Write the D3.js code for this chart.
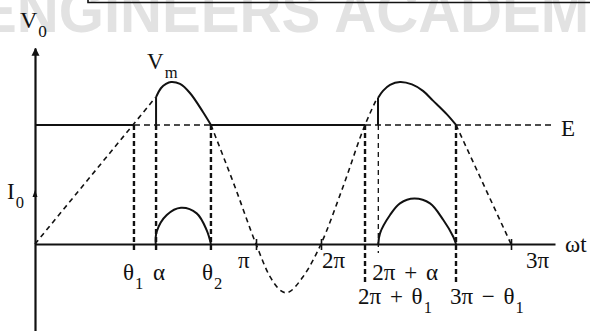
<!DOCTYPE html>
<html>
<head>
<meta charset="utf-8">
<script src="https://cdn.jsdelivr.net/npm/d3@7"></script>
<style>
    body { margin: 0; background: #fff; }
    svg { display: block; }
    text { font-family: "Liberation Serif", "Times New Roman", serif; fill: #111; }
</style>
</head>
<body>
<div id="d3container"></div>
<script>
// angles are in degrees of wt, voltages are per unit of Vm
var E = 0.735;
var I0 = 0.315;

// supply voltage, dashed where the diode is off
var supplyRise = [[0, 0], [98.1, 0.904]];
var supplyMid = [[143.3, 0.735], [162.9, 0.352], [180, 0], [218.8, -0.202], [263.1, -0.301],
    [310.2, -0.202], [360, 0], [380.8, 0.352], [401.7, 0.735], [413.1, 0.901]];
var supplyFall = [[487.9, 0.735], [540, 0]];

// output voltage while conducting
var peak1 = [[98.6, 0.907], [102.7, 0.963], [106.7, 0.988], [110.8, 1.0], [118.1, 0.988],
    [126.2, 0.932], [136.8, 0.815], [143.3, 0.735]];
var peak2 = [[414.0, 0.901], [418.7, 0.945], [425.4, 0.982], [434.8, 1.0], [446.2, 0.985],
    [456.6, 0.945], [466.1, 0.885], [479.3, 0.8], [487.9, 0.735]];

// load current pulses
var current1 = [[98.3, 0], [99.1, 0.076], [107.3, 0.179], [118.9, 0.224], [131.7, 0.189],
    [139.8, 0.086], [143.3, 0]];
var current2 = [[414.3, 0], [415.9, 0.066], [425.4, 0.179], [434.8, 0.251], [448.4, 0.281],
    [463.3, 0.251], [475.9, 0.148], [485.3, 0.045], [487.9, 0]];

// battery level E, solid / dashed pieces
var eSolid = [[0, 80.6], [143.3, 401.7]];
var eDashed = [[80.6, 143.3], [401.7, 582]];

// marked angles
var markAngles = [80.6, 98.6, 143.3, 401.7, 414.3, 487.9];
var markLabels = ['θ_1', 'α', 'θ_2', '2π + θ_1', '2π + α', '3π − θ_1'];
var markRows = [1, 1, 1, 2, 1, 2];

var tickAngles = [180, 360, 540];
var tickLabels = ['π', '2π', '3π'];

var width = 590;
var height = 331;

/*
 the original drawing is not to scale, so the
 angle axis is piecewise linear between pi marks
 */
var x = d3.scaleLinear()
    .domain([0, 180, 360, 540, 582])
    .range([35, 256, 321, 511, 555]);

var y = d3.scaleLinear()
    .domain([0, 1])
    .range([244, 82]);

var line = d3.line()
    .x(function (d) { return x(d[0]); })
    .y(function (d) { return y(d[1]); })
    .curve(d3.curveMonotoneX);

var smooth = d3.line()
    .x(function (d) { return x(d[0]); })
    .y(function (d) { return y(d[1]); })
    .curve(d3.curveCatmullRom);

var straight = d3.line()
    .x(function (d) { return x(d[0]); })
    .y(function (d) { return y(d[1]); });

var svg = d3.select('#d3container').append('svg')
    .attr('width', width)
    .attr('height', height);

svg.append('defs').append('marker')
    .attr('id', 'arrow')
    .attr('viewBox', '0 0 10 10')
    .attr('refX', 9)
    .attr('refY', 5)
    .attr('markerUnits', 'userSpaceOnUse')
    .attr('markerWidth', 8)
    .attr('markerHeight', 9)
    .attr('orient', 'auto')
    .append('path')
    .attr('d', 'M0,0 L10,5 L0,10 Z')
    .attr('fill', '#111');

// watermark and frame at the top
svg.append('text')
    .attr('x', -22)
    .attr('y', 32)
    .attr('textLength', 650)
    .attr('lengthAdjust', 'spacingAndGlyphs')
    .style('font-family', '"Liberation Sans", Arial, sans-serif')
    .style('font-weight', 'bold')
    .style('font-size', '62px')
    .style('fill', '#e2e2e2')
    .text('ENGINEERS ACADEMY');

svg.append('path')
    .attr('d', 'M88,-2 V2.5 H592')
    .attr('fill', 'none')
    .attr('stroke', '#111')
    .attr('stroke-width', 1.6);

// x axis
var xAxis = d3.axisBottom(x)
    .tickValues(tickAngles)
    .tickSizeInner(6)
    .tickSizeOuter(0)
    .tickFormat('');

var gx = svg.append('g')
    .attr('transform', 'translate(0,' + y(0) + ')')
    .call(xAxis);
gx.select('.domain').attr('stroke', '#111').attr('stroke-width', 2.2);
gx.selectAll('.tick line').attr('y1', -5).attr('stroke', '#111').attr('stroke-width', 1.6);

// y axis with arrow on top
var yAxisScale = d3.scaleLinear()
    .domain([-0.54, 1.21])
    .range([y(-0.54), y(1.21)]);
var yAxis = d3.axisLeft(yAxisScale).tickValues([]).tickSizeOuter(0);
var gy = svg.append('g')
    .attr('transform', 'translate(' + x(0) + ',0)')
    .call(yAxis);
gy.select('.domain')
    .attr('stroke', '#111')
    .attr('stroke-width', 2.2)
    .attr('marker-end', 'url(#arrow)');

// small arrow for the current axis
svg.append('path')
    .attr('d', 'M' + (x(0) - 2.5) + ',' + (y(I0) + 4) + ' L' + x(0) + ',' + (y(I0) - 3) +
        ' L' + (x(0) + 2.5) + ',' + (y(I0) + 4) + ' Z')
    .attr('fill', '#111');

// vertical dashed drops
var drops = svg.append('g');
markAngles.forEach(function (a, i) {
    var thin = markLabels[i] === '2π + α';
    drops.append('line')
        .attr('x1', x(a)).attr('x2', x(a))
        .attr('y1', y(E))
        .attr('y2', markRows[i] === 2 ? y(-0.241) : y(-0.056))
        .attr('stroke', '#111')
        .attr('stroke-width', thin ? 1.3 : 2.4)
        .attr('stroke-dasharray', thin ? '5,4' : '5,3');
});

// battery level E
eSolid.forEach(function (s) {
    svg.append('line')
        .attr('x1', x(s[0])).attr('x2', x(s[1]))
        .attr('y1', y(E)).attr('y2', y(E))
        .attr('stroke', '#111').attr('stroke-width', 2);
});
eDashed.forEach(function (s) {
    svg.append('line')
        .attr('x1', x(s[0])).attr('x2', x(s[1]))
        .attr('y1', y(E)).attr('y2', y(E))
        .attr('stroke', '#111').attr('stroke-width', 1.6)
        .attr('stroke-dasharray', '6,4');
});

// supply, dashed
[supplyRise, supplyMid, supplyFall].forEach(function (d) {
    svg.append('path')
        .attr('d', line(d))
        .attr('fill', 'none')
        .attr('stroke', '#111')
        .attr('stroke-width', 1.6)
        .attr('stroke-dasharray', '5,4');
});

// output while conducting, solid with jump at alpha
[peak1, peak2].forEach(function (d) {
    svg.append('path')
        .attr('d', straight([[d[0][0], E], d[0]]))
        .attr('fill', 'none')
        .attr('stroke', '#111')
        .attr('stroke-width', 2);
    svg.append('path')
        .attr('d', smooth(d))
        .attr('fill', 'none')
        .attr('stroke', '#111')
        .attr('stroke-width', 2);
});

// current pulses
[current1, current2].forEach(function (d) {
    svg.append('path')
        .attr('d', smooth(d))
        .attr('fill', 'none')
        .attr('stroke', '#111')
        .attr('stroke-width', 2);
});

// text helper, "_" starts a subscript
function label(xp, yp, str, size) {
    var parts = str.split('_');
    var t = svg.append('text')
        .attr('x', xp)
        .attr('y', yp)
        .style('font-size', size + 'px')
        .style('word-spacing', '3px');
    t.append('tspan').text(parts[0]);
    if (parts[1]) {
        t.append('tspan')
            .attr('dy', size * 0.38)
            .attr('dx', 1)
            .style('font-size', (size * 0.72) + 'px')
            .text(parts[1]);
    }
    return t;
}

var markDx = [-11, -3, -9, -7, -6, -6];
markAngles.forEach(function (a, i) {
    label(x(a) + markDx[i], markRows[i] === 2 ? 304 : 280, markLabels[i], 23);
});

var tickDx = [-18, 1, 15];
tickAngles.forEach(function (a, i) {
    label(x(a) + tickDx[i], 268, tickLabels[i], 23);
});

label(20, 28, 'V_0', 24);
label(147, 69, 'V_m', 23);
label(7, 199, 'I_0', 23);
label(561, 136, 'E', 23);
label(565, 252, 'ωt', 23);
</script>
</body>
</html>
